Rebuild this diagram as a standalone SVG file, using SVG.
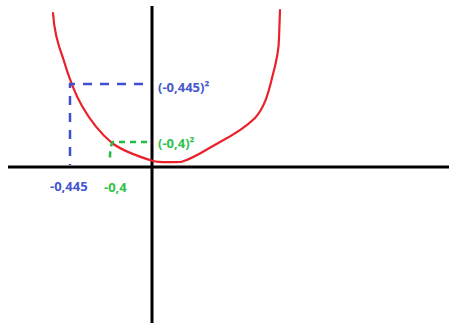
<svg xmlns="http://www.w3.org/2000/svg" width="449" height="323" viewBox="0 0 449 323">
<style>
.axis{stroke:#000;stroke-width:3;fill:none}
.curve{stroke:#e8212a;stroke-width:2.2;fill:none;stroke-linecap:round;stroke-linejoin:round}
.blue{stroke:#3e4fcf;stroke-width:2.5;fill:none;stroke-dasharray:9,8}
.green{stroke:#22bb44;stroke-width:2.5;fill:none;stroke-dasharray:6,5}
text{font-family:"Open Sans","Liberation Sans",sans-serif;font-weight:bold;font-size:13px}
.tb{fill:#4457cc}
.tg{fill:#2fc24a}
</style>
<rect width="449" height="323" fill="#fff"/>
<g id="axes">
<line class="axis" x1="8" y1="167" x2="449" y2="167"/>
<line class="axis" x1="152" y1="6" x2="152" y2="323"/>
</g>
<g id="curve">
<path class="curve" d="M53,13 C54,30 58,45 63,58 C68,75 74,92 82,106 C90,120 100,133 112,143 C124,152 140,157 153,161 C160,163 170,162 181,162 C195,158 205,150 220,142 C235,134 245,128 255,118 C264,108 268,95 272,78 C277,60 279,45 279,38 L280,10"/>
</g>
<g id="guides">
<path class="blue" d="M143,84 H70 V165"/>
<path class="green" d="M147,142 H113 Q110,145 110,158"/>
</g>
<g id="labels">
<text class="tb" x="158" y="92">(-0,445)²</text>
<text class="tg" x="158" y="148">(-0,4)²</text>
<text class="tb" x="50" y="191">-0,445</text>
<text class="tg" x="104" y="192">-0,4</text>
</g>
</svg>
